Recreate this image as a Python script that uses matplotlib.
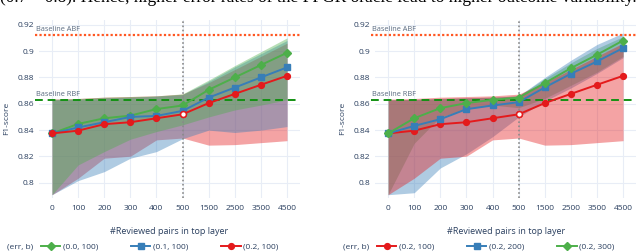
import numpy as np
import matplotlib
matplotlib.use("Agg")
import matplotlib.pyplot as plt

plt.rcParams['font.family'] = ['Open Sans', 'DejaVu Sans']

# =========================
# DATA
# =========================
x_labels = ['0', '100', '200', '300', '400', '500', '1500', '2500', '3500', '4500']
y_ticks = [0.8, 0.82, 0.84, 0.86, 0.88, 0.9, 0.92]
baseline_abf = 0.9124
baseline_rbf = 0.863
split_idx = 5          # the "500" category, dotted vertical line + open marker

# left panel: (err, b) = (0.0,100), (0.1,100), (0.2,100)
left_names = ['(0.0, 100)', '(0.1, 100)', '(0.2, 100)']
left_mean = [
    [0.8375, 0.8447, 0.849, 0.851, 0.856, 0.8587, 0.8706, 0.880, 0.8894, 0.8987],
    [0.8375, 0.842, 0.846, 0.850, 0.8508, 0.8546, 0.8647, 0.8723, 0.880, 0.8876],
    [0.8375, 0.8396, 0.8445, 0.846, 0.849, 0.852, 0.8605, 0.8675, 0.8744, 0.8812],
]
left_low = [
    [0.791, 0.8136, 0.8237, 0.8331, 0.8389, 0.844, 0.850, 0.8553, 0.859, 0.863],
    [0.791, 0.8017, 0.8085, 0.8187, 0.8237, 0.8335, 0.840, 0.8382, 0.840, 0.8427],
    [0.791, 0.8035, 0.8187, 0.8202, 0.8326, 0.834, 0.8286, 0.829, 0.8305, 0.832],
]
left_high = [
    [0.8635, 0.864, 0.865, 0.8655, 0.866, 0.8675, 0.878, 0.889, 0.8995, 0.910],
    [0.863, 0.8635, 0.8645, 0.865, 0.8658, 0.867, 0.877, 0.888, 0.898, 0.908],
    [0.8635, 0.864, 0.865, 0.8655, 0.866, 0.8673, 0.876, 0.886, 0.896, 0.906],
]
left_colors = ['#4daf4a', '#377eb8', '#e41a1c']
left_markers = ['D', 's', 'o']

# right panel: (err, b) = (0.2,100), (0.2,200), (0.2,300)
right_names = ['(0.2, 100)', '(0.2, 200)', '(0.2, 300)']
right_mean = [
    [0.8375, 0.8396, 0.8445, 0.846, 0.849, 0.852, 0.8605, 0.8675, 0.8744, 0.8812],
    [0.8375, 0.8432, 0.8483, 0.8559, 0.8587, 0.8612, 0.8724, 0.8828, 0.8921, 0.9023],
    [0.8375, 0.849, 0.8567, 0.8605, 0.863, 0.8647, 0.8757, 0.887, 0.8972, 0.908],
]
right_low = [
    [0.791, 0.8035, 0.8187, 0.8202, 0.8326, 0.834, 0.8286, 0.829, 0.8305, 0.832],
    [0.791, 0.7925, 0.8113, 0.822, 0.835, 0.850, 0.862, 0.872, 0.883, 0.895],
    [0.791, 0.830, 0.850, 0.856, 0.859, 0.857, 0.864, 0.874, 0.884, 0.896],
]
right_high = [
    [0.8635, 0.864, 0.865, 0.8655, 0.866, 0.8673, 0.876, 0.886, 0.896, 0.906],
    [0.863, 0.8633, 0.864, 0.8645, 0.865, 0.866, 0.880, 0.893, 0.905, 0.9137],
    [0.863, 0.8633, 0.864, 0.8645, 0.865, 0.866, 0.879, 0.891, 0.902, 0.911],
]
right_colors = ['#e41a1c', '#377eb8', '#4daf4a']
right_markers = ['o', 's', 'D']

text_col = '#2a3f5f'
grid_col = '#e8edf6'


def draw_panel(ax, names, means, lows, highs, colors, markers):
    xs = np.arange(len(x_labels))
    handles = []
    # first legend entry ends up on top of the band stack
    for lo, hi, c in reversed(list(zip(lows, highs, colors))):
        ax.fill_between(xs, lo, hi, color=c, alpha=0.4, linewidth=0, zorder=1)
    for name, m, c, mk in zip(names, means, colors, markers):
        h, = ax.plot(xs, m, color=c, marker=mk, markersize=4.2 if mk != 'D' else 3.8,
                     linewidth=1.4, label=name, zorder=4)
        handles.append(h)
        if c == '#e41a1c':
            ax.plot(xs[split_idx], m[split_idx], marker=mk, markersize=4.2,
                    markerfacecolor='white', markeredgecolor=c, markeredgewidth=1.1,
                    linestyle='none', zorder=5)

    ax.axvline(split_idx, color='#8a8a8a', linestyle=(0, (1, 1.5)), linewidth=1.2, zorder=3)
    ax.axhline(baseline_abf, xmin=-0.015, xmax=1.0, color='#ff5722',
               linestyle=(0, (1, 1)), linewidth=1.6, clip_on=False, zorder=3)
    ax.axhline(baseline_rbf, xmin=-0.015, xmax=1.0, color='#139113',
               linestyle=(0, (4, 2.5)), linewidth=1.4, clip_on=False, zorder=3)
    ax.text(-0.012, baseline_abf + 0.0013, 'Baseline ABF', transform=ax.get_yaxis_transform(),
            fontsize=5.3, color='#5a6b80', va='bottom', ha='left')
    ax.text(-0.012, baseline_rbf + 0.0013, 'Baseline RBF', transform=ax.get_yaxis_transform(),
            fontsize=5.3, color='#5a6b80', va='bottom', ha='left')

    ax.set_xlim(-0.5, len(x_labels) - 0.5)
    ax.set_ylim(0.7885, 0.9235)
    ax.set_xticks(xs)
    ax.set_xticklabels(x_labels)
    ax.set_yticks(y_ticks)
    ax.set_yticklabels(['{:g}'.format(v) for v in y_ticks])
    ax.tick_params(length=0, labelsize=6, colors=text_col)
    ax.tick_params(axis='y', pad=3.5)
    ax.tick_params(axis='x', pad=5)
    ax.grid(True, color=grid_col, linewidth=0.8, zorder=0)
    ax.set_axisbelow(True)
    for s in ax.spines.values():
        s.set_visible(False)
    ax.set_ylabel('F1-score', fontsize=6, color=text_col)
    ax.yaxis.set_label_coords(-0.11, 0.45)
    ax.set_xlabel('#Reviewed pairs in top layer', fontsize=6.5, color=text_col)
    ax.xaxis.set_label_coords(0.5, -0.165)
    return handles


fig = plt.figure(figsize=(6.4, 2.52), dpi=100)
ax1 = fig.add_axes([0.0609, 0.2143, 0.408, 0.706])
ax2 = fig.add_axes([0.586, 0.2143, 0.408, 0.706])

h1 = draw_panel(ax1, left_names, left_mean, left_low, left_high, left_colors, left_markers)
h2 = draw_panel(ax2, right_names, right_mean, right_low, right_high, right_colors, right_markers)

for hs, tx, lx in [(h1, 0.011, 0.064), (h2, 0.536, 0.589)]:
    fig.text(tx, 0.02, '(err, b)', fontsize=6, color=text_col, va='center', ha='left')
    fig.legend(handles=hs, loc='center left', bbox_to_anchor=(lx, 0.02), ncol=3,
               frameon=False, fontsize=6, handlelength=2.3, handletextpad=0.3,
               columnspacing=4.0, borderpad=0, borderaxespad=0, labelcolor=text_col)

# cropped line of body text from the page above the figure
fig.text(0.0, 0.991, '(0.7 \u2013 0.8). Hence, higher error rates of the FPGR oracle lead to higher outcome variability.',
         fontsize=12.5, family='Liberation Serif', va='baseline', ha='left', color='black')

fig.savefig('out.png', dpi=100)
